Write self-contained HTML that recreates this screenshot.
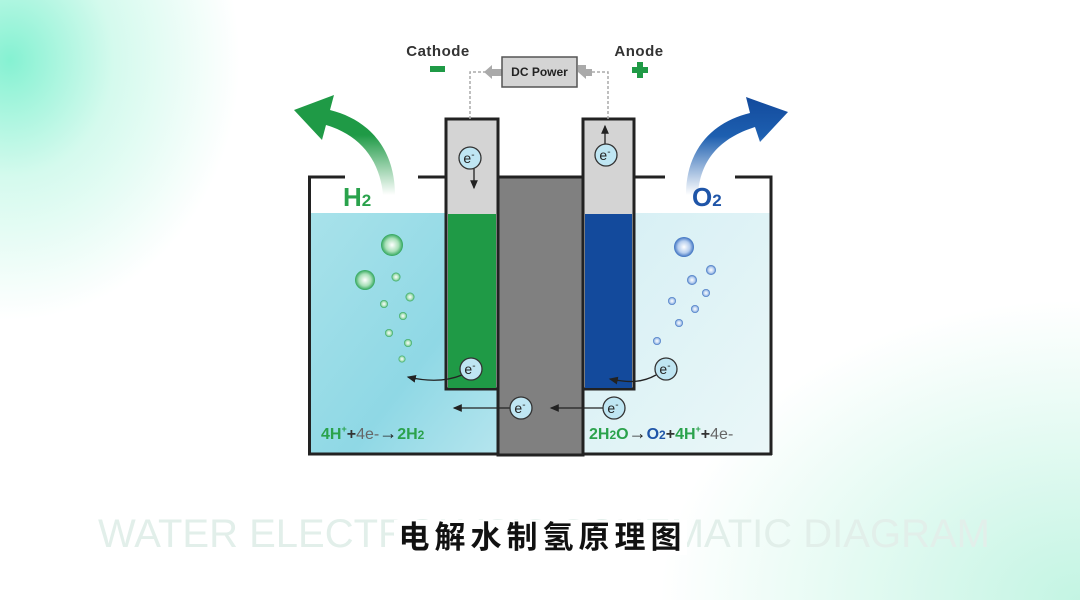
<!DOCTYPE html>
<html><head><meta charset="utf-8"><style>
html,body{margin:0;padding:0}
body{width:1080px;height:600px;overflow:hidden;position:relative;background:#fff;font-family:"Liberation Sans","Noto Sans CJK SC",sans-serif}
.bg{position:absolute;inset:0;background:
radial-gradient(ellipse 230px 260px at 10px 60px, rgba(120,240,205,0.9), rgba(170,245,220,0.5) 45%, rgba(255,255,255,0) 100%),
radial-gradient(ellipse 420px 300px at 1080px 600px, rgba(170,240,215,0.7), rgba(255,255,255,0) 100%);}
.wm{position:absolute;left:98px;top:512px;font-size:40px;color:#e2efea;letter-spacing:0px;white-space:nowrap}
.title{position:absolute;left:0;width:1080px;top:512px;text-align:center}
.title span{background:#fff;font-size:31px;font-weight:bold;color:#111;letter-spacing:5px;padding:0 0 0 5px}
</style></head><body>
<div class="bg"></div>
<div class="wm">WATER ELECTROLYSIS SCHEMATIC DIAGRAM</div>
<div class="title"><span>电解水制氢原理图</span></div>
<svg width="1080" height="600" style="position:absolute;left:0;top:0" font-family="Liberation Sans, sans-serif">
<defs>
<linearGradient id="lw" x1="0" y1="0" x2="1" y2="1"><stop offset="0" stop-color="#a8e2ea"/><stop offset="0.6" stop-color="#8fd8e5"/><stop offset="1" stop-color="#b5e5ee"/></linearGradient>
<linearGradient id="rw" x1="0" y1="0" x2="1" y2="1"><stop offset="0" stop-color="#d5eff4"/><stop offset="1" stop-color="#eaf7f8"/></linearGradient>
<linearGradient id="ga" x1="0" y1="1" x2="0" y2="0"><stop offset="0" stop-color="#1f9a46" stop-opacity="0"/><stop offset="0.6" stop-color="#1f9a46"/><stop offset="1" stop-color="#1f9a46"/></linearGradient>
<linearGradient id="ba" x1="0" y1="1" x2="0" y2="0"><stop offset="0" stop-color="#1d5fb0" stop-opacity="0"/><stop offset="0.6" stop-color="#1d5fb0"/><stop offset="1" stop-color="#134a9c"/></linearGradient>
<radialGradient id="gb"><stop offset="0" stop-color="#fff"/><stop offset="0.6" stop-color="#a8e0b8"/><stop offset="1" stop-color="#2ea55a"/></radialGradient>
<radialGradient id="bb"><stop offset="0" stop-color="#fff"/><stop offset="0.6" stop-color="#b5cdee"/><stop offset="1" stop-color="#3a70c0"/></radialGradient>
<marker id="ah" markerWidth="8" markerHeight="8" refX="6" refY="4" orient="auto"><path d="M0,1 L7,4 L0,7 Z" fill="#222"/></marker>
</defs>
<rect x="311" y="213" width="187" height="242" fill="url(#lw)"/>
<rect x="583" y="213" width="189" height="242" fill="url(#rw)"/>
<path d="M345,177 L309.5,177 L309.5,455" fill="none" stroke="#222" stroke-width="3"/>
<path d="M735,177 L771,177 L771,455" fill="none" stroke="#222" stroke-width="3"/>
<line x1="418" y1="177" x2="446" y2="177" stroke="#222" stroke-width="3"/>
<line x1="634" y1="177" x2="665" y2="177" stroke="#222" stroke-width="3"/>
<line x1="308" y1="454" x2="772" y2="454" stroke="#222" stroke-width="3"/>
<rect x="498" y="177" width="85" height="278" fill="#808080" stroke="#222" stroke-width="3"/>
<rect x="446" y="119" width="52" height="270" fill="#d4d4d4" stroke="#222" stroke-width="3"/>
<rect x="448" y="214" width="48" height="174" fill="#1f9a46"/>
<rect x="583" y="119" width="51" height="270" fill="#d4d4d4" stroke="#222" stroke-width="3"/>
<rect x="585" y="214" width="47" height="174" fill="#134a9c"/>
<path d="M470,119 L470,72 L490,72" fill="none" stroke="#aaa" stroke-width="1.5" stroke-dasharray="3,2"/>
<path d="M608,119 L608,72 L590,72" fill="none" stroke="#aaa" stroke-width="1.5" stroke-dasharray="3,2"/>
<path d="M484,72 L492,65 L492,69 L502,69 L502,76 L492,76 L492,79 Z" fill="#aaa"/>
<path d="M578,65 L586,65 L586,69 L592,69 L592,76 L586,76 L586,79 L578,72 Z" fill="#aaa"/>
<rect x="502" y="57" width="75" height="30" fill="#d4d4d4" stroke="#555" stroke-width="1.5"/>
<text x="539.5" y="76" font-size="12" font-weight="bold" text-anchor="middle" fill="#222">DC Power</text>
<text x="438" y="56" font-size="15" font-weight="bold" text-anchor="middle" fill="#333" letter-spacing="0.5">Cathode</text>
<rect x="430" y="66" width="15" height="6" fill="#1f9a46"/>
<text x="639" y="56" font-size="15" font-weight="bold" text-anchor="middle" fill="#333" letter-spacing="0.5">Anode</text>
<path d="M637,62 h6 v5 h5 v6 h-5 v5 h-6 v-5 h-5 v-6 h5 z" fill="#1f9a46"/>
<path d="M395,195 C395,150 370,120 330,110 L334,95 L294,110 L322,140 L326,125 C360,135 380,160 383,195 Z" fill="url(#ga)"/>
<path d="M686,195 C686,150 712,122 750,113 L746,97 L788,112 L760,142 L755,127 C720,138 700,160 698,195 Z" fill="url(#ba)"/>
<text x="343" y="206" font-size="26" font-weight="bold" fill="#2aa24c">H<tspan font-size="17">2</tspan></text>
<text x="692" y="206" font-size="26" font-weight="bold" fill="#1f55a8">O<tspan font-size="17">2</tspan></text>
<g>
<circle cx="392" cy="245" r="11" fill="url(#gb)"/><circle cx="365" cy="280" r="10" fill="url(#gb)"/>
<circle cx="396" cy="277" r="4.5" fill="url(#gb)"/><circle cx="410" cy="297" r="4.5" fill="url(#gb)"/>
<circle cx="384" cy="304" r="4" fill="url(#gb)"/><circle cx="403" cy="316" r="4" fill="url(#gb)"/>
<circle cx="389" cy="333" r="4" fill="url(#gb)"/><circle cx="408" cy="343" r="4" fill="url(#gb)"/>
<circle cx="402" cy="359" r="3.5" fill="url(#gb)"/>
<circle cx="684" cy="247" r="10" fill="url(#bb)"/><circle cx="711" cy="270" r="5" fill="url(#bb)"/>
<circle cx="692" cy="280" r="5" fill="url(#bb)"/><circle cx="706" cy="293" r="4" fill="url(#bb)"/>
<circle cx="672" cy="301" r="4" fill="url(#bb)"/><circle cx="695" cy="309" r="4" fill="url(#bb)"/>
<circle cx="679" cy="323" r="4" fill="url(#bb)"/><circle cx="657" cy="341" r="4" fill="url(#bb)"/>
</g>
<g stroke="#222" stroke-width="1.3" fill="none">
<line x1="474" y1="168" x2="474" y2="188" marker-end="url(#ah)"/>
<line x1="605" y1="144" x2="605" y2="126" marker-end="url(#ah)"/>
<path d="M462,375 C445,382 425,381 408,377" marker-end="url(#ah)"/>
<path d="M656,375 C640,384 625,382 610,379" marker-end="url(#ah)"/>
<line x1="510" y1="408" x2="454" y2="408" marker-end="url(#ah)"/>
<line x1="603" y1="408" x2="551" y2="408" marker-end="url(#ah)"/>
</g>
<g font-size="14" fill="#222" text-anchor="middle">
<g><circle cx="470" cy="158" r="11" fill="#bfe6f3" stroke="#333" stroke-width="1.3"/><text x="469" y="163">e<tspan dy="-5" font-size="10">-</tspan></text></g>
<g><circle cx="606" cy="155" r="11" fill="#bfe6f3" stroke="#333" stroke-width="1.3"/><text x="605" y="160">e<tspan dy="-5" font-size="10">-</tspan></text></g>
<g><circle cx="471" cy="369" r="11" fill="#bfe6f3" stroke="#333" stroke-width="1.3"/><text x="470" y="374">e<tspan dy="-5" font-size="10">-</tspan></text></g>
<g><circle cx="666" cy="369" r="11" fill="#bfe6f3" stroke="#333" stroke-width="1.3"/><text x="665" y="374">e<tspan dy="-5" font-size="10">-</tspan></text></g>
<g><circle cx="521" cy="408" r="11" fill="#bfe6f3" stroke="#333" stroke-width="1.3"/><text x="520" y="413">e<tspan dy="-5" font-size="10">-</tspan></text></g>
<g><circle cx="614" cy="408" r="11" fill="#bfe6f3" stroke="#333" stroke-width="1.3"/><text x="613" y="413">e<tspan dy="-5" font-size="10">-</tspan></text></g>
</g>
<text x="321" y="439" font-size="16" font-weight="bold" fill="#2aa24c">4H<tspan font-size="9" dy="-7">+</tspan><tspan dy="7" fill="#333">+</tspan><tspan fill="#666" font-weight="normal">4e-</tspan><tspan fill="#222" font-size="18">→</tspan>2H<tspan font-size="12">2</tspan></text>
<text x="589" y="439" font-size="16" font-weight="bold" fill="#2aa24c">2H<tspan font-size="12">2</tspan>O<tspan fill="#222" font-size="18">→</tspan><tspan fill="#1f55a8">O<tspan font-size="12">2</tspan></tspan><tspan fill="#333">+</tspan>4H<tspan font-size="9" dy="-7">+</tspan><tspan dy="7" fill="#333">+</tspan><tspan fill="#666" font-weight="normal">4e-</tspan></text>
</svg>
</body></html>
